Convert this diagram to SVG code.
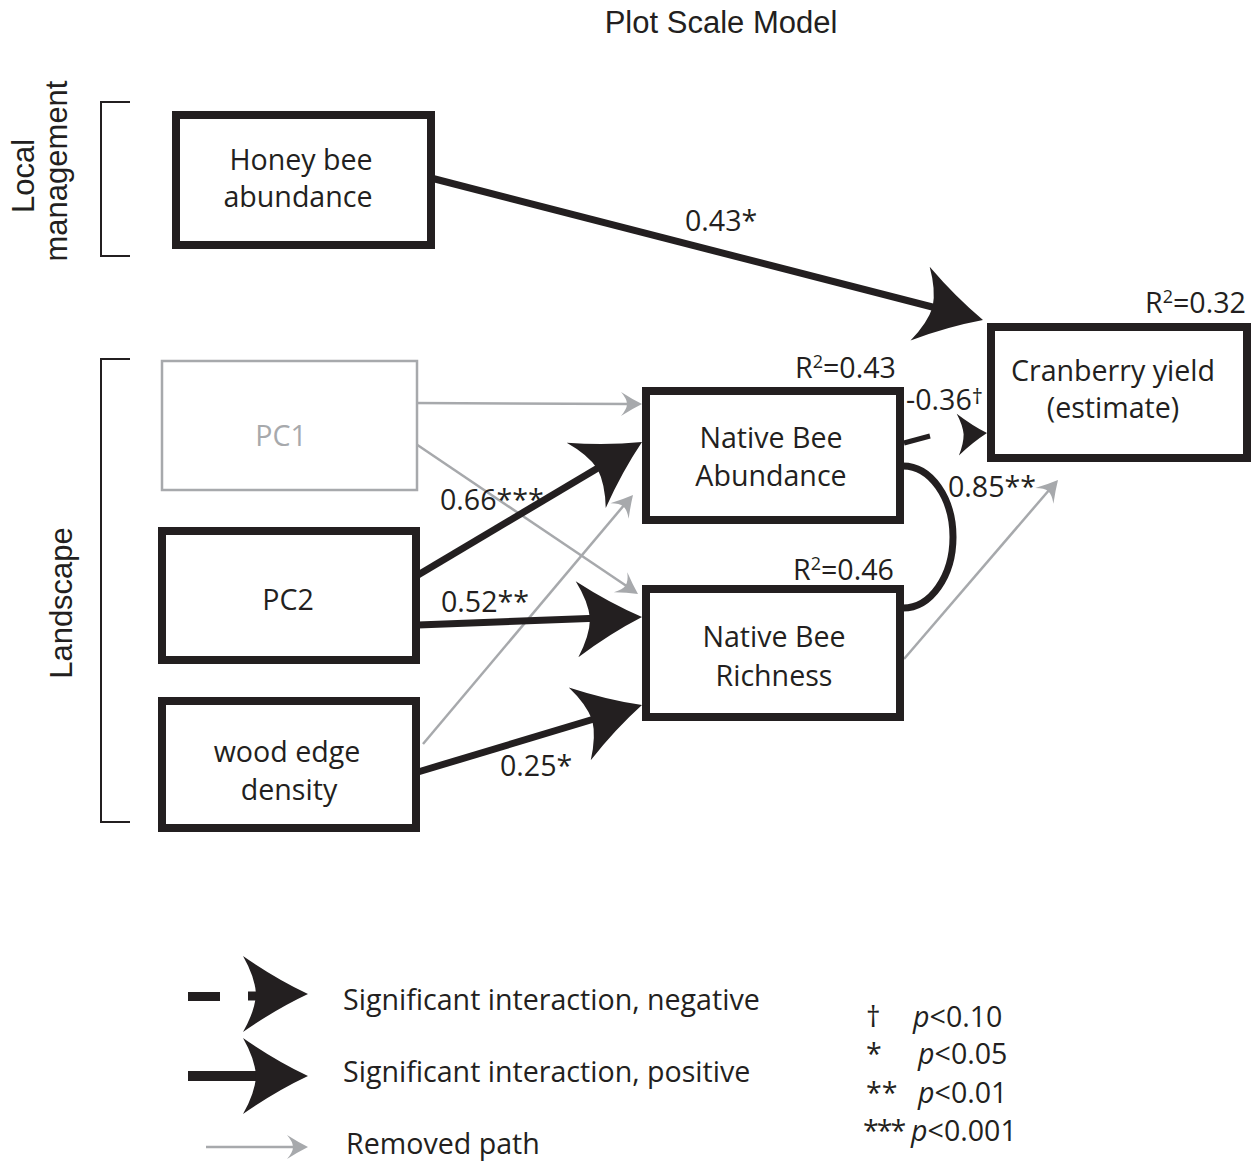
<svg xmlns="http://www.w3.org/2000/svg" xmlns:xlink="http://www.w3.org/1999/xlink" width="1252" height="1163" viewBox="0 0 1252 1163">
<style>
.box{fill:#fff;stroke:#231f20;stroke-width:8}
.gbox{fill:#fff;stroke:#a7a9ac;stroke-width:2.5}
.t{font-family:"Open Sans","Noto Sans",sans-serif;font-size:28.6px;fill:#231f20}
.tg{font-family:"Open Sans","Noto Sans",sans-serif;font-size:28.6px;fill:#a7a9ac}
.h{font-family:"Liberation Sans",Arial,sans-serif;font-size:31px;fill:#231f20}
.thick{stroke:#231f20;stroke-width:7;fill:none}
.thin{stroke:#a7a9ac;stroke-width:2.5;fill:none}
.br{stroke:#231f20;stroke-width:2;fill:none}
.bh{fill:#231f20}
.gh{fill:#a7a9ac}
</style>
<defs>
<path id="bigHead" d="M0,0 Q-32,-15 -65,-38 Q-53,-17 -52,0 Q-53,17 -65,38 Q-32,15 0,0 Z"/>
<path id="smallHead" d="M0,0 Q-10,-5 -21,-12 Q-15,-5 -15,0 Q-15,5 -21,12 Q-10,5 0,0 Z"/>
</defs>

<text class="h" x="721" y="33" text-anchor="middle">Plot Scale Model</text>

<g id="group-labels">
<text class="h" transform="translate(34,176) rotate(-90)" text-anchor="middle">Local</text>
<text class="h" transform="translate(67,171) rotate(-90)" text-anchor="middle">management</text>
<text class="h" transform="translate(72,603) rotate(-90)" text-anchor="middle">Landscape</text>
<path class="br" d="M130,102 H101 V256 H130"/>
<path class="br" d="M130,359 H101 V822 H130"/>
</g>

<g id="connectors">
<line class="thin" x1="413" y1="403" x2="630" y2="404"/>
<use href="#smallHead" class="gh" transform="translate(642,404) rotate(0.25)"/>
<line class="thin" x1="413" y1="442" x2="628" y2="587"/>
<use href="#smallHead" class="gh" transform="translate(638,594) rotate(34)"/>
<line class="thin" x1="423" y1="744" x2="625" y2="504"/>
<use href="#smallHead" class="gh" transform="translate(633,495) rotate(-49.9)"/>
<line class="thin" x1="904" y1="659" x2="1050" y2="489"/>
<use href="#smallHead" class="gh" transform="translate(1058,480) rotate(-49.3)"/>

<line class="thick" x1="431" y1="178" x2="944" y2="310"/>
<use href="#bigHead" class="bh" transform="translate(983,320) rotate(14.6)"/>
<line class="thick" x1="418" y1="575" x2="608" y2="462"/>
<use href="#bigHead" class="bh" transform="translate(642,442) rotate(-30.9)"/>
<line class="thick" x1="418" y1="625" x2="602" y2="618"/>
<use href="#bigHead" class="bh" transform="translate(642,617) rotate(-2)"/>
<line class="thick" x1="418" y1="772" x2="604" y2="716"/>
<use href="#bigHead" class="bh" transform="translate(642,705) rotate(-16.8)"/>

<line x1="904" y1="443" x2="930" y2="436" stroke="#231f20" stroke-width="5"/>
<use href="#bigHead" class="bh" transform="translate(987,433) rotate(-3) scale(0.45,0.55)"/>

<path class="thick" d="M903,466 A50,71 0 0 1 903,608" stroke-width="6"/>
</g>

<g id="edge-labels">
<text class="t" x="685" y="231">0.43*</text>
<text class="t" x="906" y="410">-0.36<tspan font-size="22" dy="-6">†</tspan></text>
<text class="t" x="948" y="497">0.85**</text>
<text class="t" x="440" y="510">0.66***</text>
<text class="t" x="441" y="612">0.52**</text>
<text class="t" x="500" y="776">0.25*</text>
</g>

<g id="node-honeybee">
<rect class="box" x="176" y="115" width="255" height="130"/>
<text class="t" x="301" y="170" text-anchor="middle">Honey bee</text>
<text class="t" x="298" y="207" text-anchor="middle">abundance</text>
</g>
<g id="node-pc1">
<rect class="gbox" x="162" y="361" width="255" height="129"/>
<text class="tg" x="281" y="446" text-anchor="middle">PC1</text>
</g>
<g id="node-pc2">
<rect class="box" x="162" y="531" width="254" height="129"/>
<text class="t" x="288" y="610" text-anchor="middle">PC2</text>
</g>
<g id="node-wood">
<rect class="box" x="162" y="701" width="254" height="127"/>
<text class="t" x="287" y="762" text-anchor="middle">wood edge</text>
<text class="t" x="289" y="800" text-anchor="middle">density</text>
</g>
<g id="node-nba">
<rect class="box" x="646" y="391" width="254" height="129"/>
<text class="t" x="771" y="448" text-anchor="middle">Native Bee</text>
<text class="t" x="771" y="486" text-anchor="middle">Abundance</text>
<text class="t" x="795" y="378">R<tspan font-size="18" dy="-10">2</tspan><tspan dy="10">=0.43</tspan></text>
</g>
<g id="node-nbr">
<rect class="box" x="646" y="589" width="254" height="128"/>
<text class="t" x="774" y="647" text-anchor="middle">Native Bee</text>
<text class="t" x="774" y="686" text-anchor="middle">Richness</text>
<text class="t" x="793" y="580">R<tspan font-size="18" dy="-10">2</tspan><tspan dy="10">=0.46</tspan></text>
</g>
<g id="node-cranberry">
<rect class="box" x="991" y="327" width="256" height="131"/>
<text class="t" x="1113" y="381" text-anchor="middle">Cranberry yield</text>
<text class="t" x="1113" y="418" text-anchor="middle">(estimate)</text>
<text class="t" x="1145" y="313">R<tspan font-size="18" dy="-10">2</tspan><tspan dy="10">=0.32</tspan></text>
</g>

<g id="legend">
<rect x="188" y="992" width="32" height="9" fill="#231f20"/>
<line x1="248" y1="996" x2="270" y2="996" stroke="#231f20" stroke-width="9"/>
<use href="#bigHead" class="bh" transform="translate(308,994)"/>
<line x1="188" y1="1076" x2="272" y2="1076" stroke="#231f20" stroke-width="10"/>
<use href="#bigHead" class="bh" transform="translate(308,1076)"/>
<line x1="206" y1="1147" x2="296" y2="1147" stroke="#a7a9ac" stroke-width="2.5"/>
<use href="#smallHead" class="gh" transform="translate(308,1147)"/>
<text class="t" x="343" y="1010">Significant interaction, negative</text>
<text class="t" x="343" y="1082">Significant interaction, positive</text>
<text class="t" x="346" y="1154">Removed path</text>
<text class="t" x="866" y="1027">†</text>
<text class="t" x="913" y="1027"><tspan font-style="italic">p</tspan>&lt;0.10</text>
<text class="t" x="866" y="1064" font-size="25">*</text>
<text class="t" x="918" y="1064"><tspan font-style="italic">p</tspan>&lt;0.05</text>
<text class="t" x="866" y="1103" font-size="25">**</text>
<text class="t" x="918" y="1103"><tspan font-style="italic">p</tspan>&lt;0.01</text>
<text class="t" x="863" y="1141" font-size="24" letter-spacing="-2">***</text>
<text class="t" x="911" y="1141"><tspan font-style="italic">p</tspan>&lt;0.001</text>
</g>
</svg>
